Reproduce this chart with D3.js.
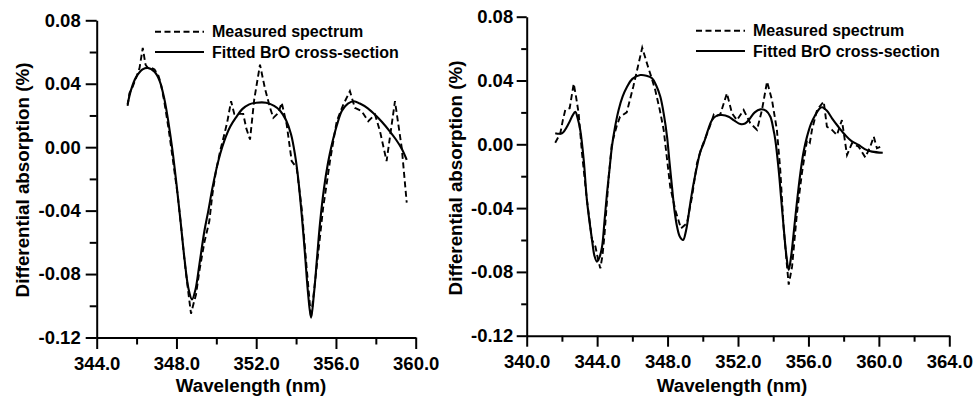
<!DOCTYPE html>
<html><head><meta charset="utf-8">
<script src="https://cdn.jsdelivr.net/npm/d3@7"></script>
<style>
html,body{margin:0;padding:0;background:#fff;}
svg{display:block;font-family:"Liberation Sans",Arial,Helvetica,sans-serif;font-weight:bold;}
</style></head><body>
<svg id="c" width="975" height="396"></svg>
<script>
// ---------- data ----------
const yTickValues = [-0.12, -0.08, -0.04, 0.00, 0.04, 0.08];
const yMinorValues = [-0.10, -0.06, -0.02, 0.02, 0.06];
const xTicksLeft = [344, 348, 352, 356, 360];
const xMinorLeft = [346, 350, 354, 358];
const xTicksRight = [340, 344, 348, 352, 356, 360, 364];
const xMinorRight = [342, 346, 350, 354, 358, 362];
const legendLabels = ["Measured spectrum", "Fitted BrO cross-section"];
const xTitle = "Wavelength (nm)";
const yTitle = "Differential absorption (%)";

const leftMeasured = [[345.55,0.026],[345.64,0.034],[345.8,0.038],[345.97,0.0435],[346.15,0.050],[346.31,0.0626],[346.45,0.052],[346.56,0.050],[346.75,0.050],[346.9,0.049],[347.1,0.045],[347.22,0.040],[347.4,0.028],[347.6,0.012],[347.8,-0.006],[348.06,-0.030],[348.25,-0.052],[348.4,-0.071],[348.6,-0.092],[348.73,-0.105],[348.85,-0.099],[348.98,-0.093],[349.15,-0.078],[349.4,-0.060],[349.65,-0.0466],[349.8,-0.030],[349.98,-0.0151],[350.2,-0.002],[350.4,0.008],[350.55,0.016],[350.74,0.029],[350.9,0.021],[351.1,0.021],[351.35,0.021],[351.5,0.012],[351.69,0.0048],[351.9,0.030],[352.19,0.052],[352.44,0.037],[352.69,0.025],[352.86,0.0185],[353.11,0.0216],[353.28,0.028],[353.53,0.0143],[353.78,-0.0088],[354.03,-0.013],[354.28,-0.0386],[354.53,-0.076],[354.75,-0.1075],[355.03,-0.076],[355.36,-0.038],[355.53,-0.0235],[355.7,-0.0088],[356.04,0.0164],[356.37,0.0269],[356.7,0.0353],[356.95,0.0248],[357.29,0.0227],[357.62,0.0164],[357.96,0.0206],[358.21,0.010],[358.54,-0.0088],[358.96,0.029],[359.3,-0.0004],[359.55,-0.035]];

const leftFitted = [[345.55,0.027],[345.72,0.036],[345.97,0.044],[346.3,0.049],[346.56,0.050],[346.9,0.0475],[347.15,0.042],[347.4,0.030],[347.6,0.0155],[347.8,-0.002],[348.0,-0.023],[348.2,-0.046],[348.4,-0.070],[348.6,-0.089],[348.78,-0.096],[348.95,-0.090],[349.15,-0.074],[349.4,-0.053],[349.6,-0.040],[349.8,-0.026],[350.0,-0.014],[350.2,-0.004],[350.4,0.004],[350.7,0.013],[351.0,0.019],[351.3,0.024],[351.65,0.027],[352.0,0.028],[352.5,0.028],[352.9,0.026],[353.2,0.023],[353.5,0.017],[353.75,0.008],[353.95,-0.005],[354.1,-0.019],[354.3,-0.045],[354.45,-0.068],[354.6,-0.092],[354.75,-0.1075],[354.9,-0.092],[355.05,-0.070],[355.2,-0.048],[355.4,-0.026],[355.6,-0.010],[355.8,0.002],[356.05,0.014],[356.3,0.023],[356.6,0.0275],[356.9,0.029],[357.2,0.0275],[357.6,0.0245],[358.0,0.020],[358.3,0.016],[358.7,0.010],[359.0,0.005],[359.3,-0.001],[359.55,-0.008]];

const rightMeasured = [[341.62,0.001],[341.91,0.0069],[342.05,0.015],[342.19,0.0215],[342.44,0.0226],[342.67,0.038],[342.8,0.030],[342.95,0.0194],[343.14,-0.0056],[343.42,-0.035],[343.71,-0.060],[343.9,-0.064],[344.05,-0.072],[344.18,-0.0778],[344.3,-0.070],[344.41,-0.058],[344.66,-0.0203],[344.84,0.0006],[345.1,0.011],[345.3,0.0173],[345.68,0.020],[346.05,0.036],[346.3,0.048],[346.56,0.0606],[346.85,0.050],[347.1,0.0414],[347.3,0.034],[347.55,0.022],[347.78,0.009],[348.15,-0.0266],[348.44,-0.0412],[348.76,-0.0527],[349.1,-0.0495],[349.39,-0.0328],[349.67,-0.0119],[349.95,-0.0015],[350.33,0.009],[350.62,0.0184],[350.71,0.0173],[351.0,0.019],[351.37,0.032],[351.66,0.0194],[351.94,0.0152],[352.32,0.0215],[352.7,0.0132],[353.08,0.009],[353.36,0.0215],[353.65,0.0393],[353.93,0.0278],[354.21,0.009],[354.4,-0.016],[354.59,-0.052],[354.78,-0.076],[354.88,-0.088],[355.07,-0.0767],[355.35,-0.043],[355.63,-0.018],[355.92,0.0027],[356.08,0.001],[356.2,0.009],[356.49,0.0215],[356.66,0.024],[356.87,0.0267],[357.05,0.011],[357.34,0.009],[357.62,0.0058],[357.9,0.0152],[358.19,-0.0067],[358.47,0.0006],[358.85,-0.0015],[359.23,-0.0082],[359.51,-0.0015],[359.71,0.0048],[359.89,-0.0025],[360.22,-0.001]];

const rightFitted = [[341.62,0.0069],[342.0,0.0069],[342.39,0.0132],[342.6,0.018],[342.76,0.0204],[342.9,0.016],[343.04,0.009],[343.24,-0.010],[343.42,-0.035],[343.71,-0.060],[343.85,-0.070],[343.99,-0.0736],[344.13,-0.071],[344.28,-0.0642],[344.42,-0.048],[344.56,-0.0307],[344.7,-0.016],[344.84,-0.0015],[345.02,0.011],[345.22,0.0215],[345.45,0.030],[345.7,0.0361],[346.0,0.041],[346.45,0.0434],[346.8,0.043],[347.12,0.0414],[347.35,0.037],[347.59,0.0298],[347.8,0.018],[347.97,0.0048],[348.1,-0.010],[348.25,-0.0266],[348.4,-0.042],[348.54,-0.0517],[348.7,-0.058],[348.88,-0.060],[349.05,-0.054],[349.29,-0.037],[349.47,-0.025],[349.67,-0.014],[349.85,-0.005],[350.05,0.0006],[350.3,0.009],[350.52,0.0152],[350.8,0.018],[351.09,0.0184],[351.47,0.0173],[351.8,0.0148],[352.13,0.0127],[352.4,0.013],[352.61,0.0152],[352.95,0.020],[353.27,0.0219],[353.6,0.021],[353.84,0.0173],[354.0,0.010],[354.12,0.0027],[354.31,-0.0161],[354.45,-0.034],[354.59,-0.0517],[354.75,-0.070],[354.88,-0.0788],[355.02,-0.070],[355.16,-0.0558],[355.35,-0.036],[355.54,-0.0182],[355.72,-0.005],[355.92,0.0048],[356.15,0.013],[356.39,0.0184],[356.6,0.022],[356.77,0.0232],[357.05,0.021],[357.34,0.0163],[357.7,0.011],[358.09,0.0058],[358.45,0.002],[358.85,-0.0004],[359.2,-0.003],[359.61,-0.0046],[360.22,-0.0053]];

// ---------- layout ----------
const panels = [
  {xDomain:[344,360], xRange:[96.7,415.7], yRange:[337.5,20.3], xTicks:xTicksLeft, xMinor:xMinorLeft,
   measured:leftMeasured, fitted:leftFitted, yMaj:11, yMin:7, yPad:5, xMaj:11.5, xMin:7, xPad:7.5,
   yTitleX:29, yTitleY:180, xTitleX:251, legX:155, legY:31.7},
  {xDomain:[340,364], xRange:[526.7,949.3], yRange:[335.7,16.7], xTicks:xTicksRight, xMinor:xMinorRight,
   measured:rightMeasured, fitted:rightFitted, yMaj:10, yMin:5.5, yPad:3.5, xMaj:11, xMin:6, xPad:8,
   yTitleX:462, yTitleY:178, xTitleX:732, legX:696, legY:30.7}
];

const svg = d3.select("#c");
const fmtY = d => d3.format(".2f")(d).replace("\u2212", "-");
const fmtX = d => d3.format(".1f")(d);
const tickFont = 18.5;

panels.forEach(p => {
  const x = d3.scaleLinear().domain(p.xDomain).range(p.xRange);
  const y = d3.scaleLinear().domain([-0.12, 0.08]).range(p.yRange);
  const y0 = p.yRange[0];
  const x0 = p.xRange[0];

  // minor ticks
  const gyMin = svg.append("g").attr("transform", `translate(${x0},0)`)
    .call(d3.axisLeft(y).tickValues(yMinorValues).tickSize(p.yMin).tickFormat(""));
  gyMin.select(".domain").remove();
  const gxMin = svg.append("g").attr("transform", `translate(0,${y0})`)
    .call(d3.axisBottom(x).tickValues(p.xMinor).tickSize(p.xMin).tickFormat(""));
  gxMin.select(".domain").remove();

  // major axes
  const gy = svg.append("g").attr("transform", `translate(${x0},0)`)
    .call(d3.axisLeft(y).tickValues(yTickValues).tickSize(p.yMaj).tickSizeOuter(0).tickPadding(p.yPad).tickFormat(fmtY));
  const gx = svg.append("g").attr("transform", `translate(0,${y0})`)
    .call(d3.axisBottom(x).tickValues(p.xTicks).tickSize(p.xMaj).tickSizeOuter(0).tickPadding(p.xPad).tickFormat(fmtX));

  [gy, gx, gyMin, gxMin].forEach(g => {
    g.attr("font-family", null).attr("font-size", null);
    g.selectAll("line").attr("stroke", "#000").attr("stroke-width", 2);
    g.selectAll(".domain").attr("stroke", "#000").attr("stroke-width", 2);
    g.selectAll("text").attr("fill", "#000").style("font-size", tickFont + "px").style("font-weight", "bold");
  });

  // curves
  const line = d3.line().x(d => x(d[0])).y(d => y(d[1]));
  svg.append("path").datum(p.fitted)
    .attr("d", line.curve(d3.curveCatmullRom.alpha(0.5)))
    .attr("fill", "none").attr("stroke", "#000").attr("stroke-width", 2.1);
  svg.append("path").datum(p.measured)
    .attr("d", d3.line().x(d => x(d[0])).y(d => y(d[1])).curve(d3.curveLinear))
    .attr("fill", "none").attr("stroke", "#000").attr("stroke-width", 1.9)
    .attr("stroke-dasharray", "6,3.5");

  // axis titles
  svg.append("text").attr("transform", `translate(${p.yTitleX},${p.yTitleY}) rotate(-90)`)
    .attr("text-anchor", "middle").style("font-size", "18.8px").text(yTitle);
  svg.append("text").attr("x", p.xTitleX).attr("y", 391.5)
    .attr("text-anchor", "middle").style("font-size", "18.8px").text(xTitle);

  // legend
  const styles = [{dash:"6,3.5", w:1.9}, {dash:null, w:2.1}];
  legendLabels.forEach((lab, i) => {
    const ly = p.legY + i * 20.3;
    svg.append("line").attr("x1", p.legX).attr("x2", p.legX + 49)
      .attr("y1", ly).attr("y2", ly).attr("stroke", "#000")
      .attr("stroke-width", styles[i].w).attr("stroke-dasharray", styles[i].dash);
    svg.append("text").attr("x", p.legX + 57).attr("y", ly + 5.6)
      .style("font-size", "16px").text(lab);
  });
});
</script>
</body></html>
